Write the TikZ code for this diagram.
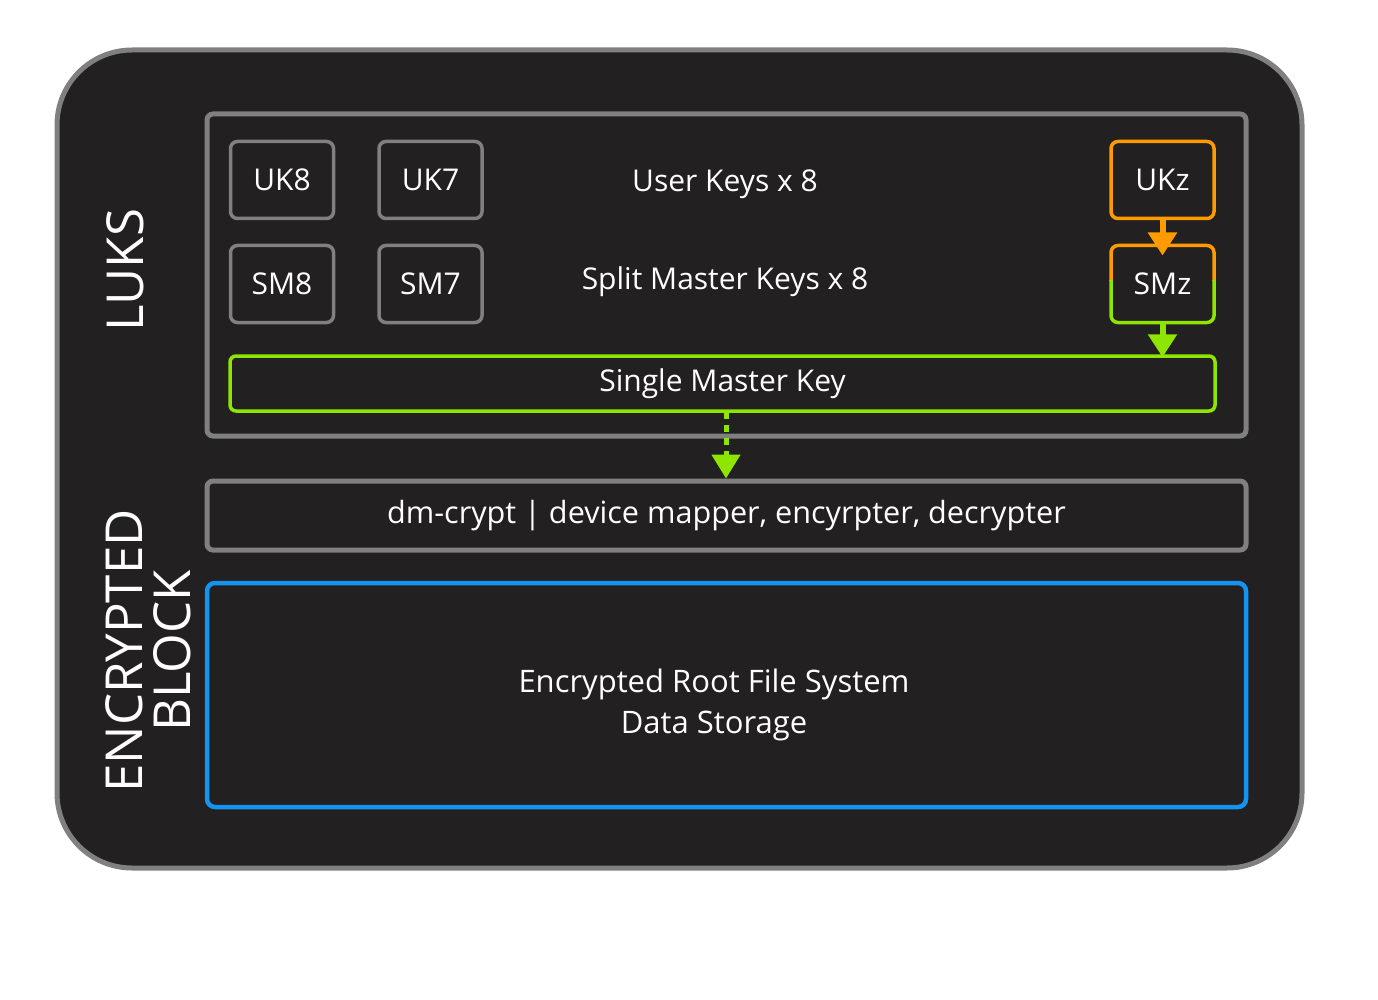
\documentclass[tikz,border=0pt]{standalone}
\usepackage{fontspec}
\setmainfont{Open Sans}
\usetikzlibrary{arrows.meta}
\definecolor{bg}{HTML}{222020}
\definecolor{bord}{HTML}{808080}
\definecolor{grn}{HTML}{8EE600}
\definecolor{org}{HTML}{FF9A00}
\definecolor{blu}{HTML}{1493F0}
\tikzset{
  keybox/.style={draw=bord, line width=3.5pt, rounded corners=7pt, minimum width=103pt, minimum height=77pt, inner sep=0pt, text=white, font=\fontsize{30}{36}\selectfont},
  lbl/.style={text=white, font=\fontsize{30}{36}\selectfont, inner sep=0pt},
  biglbl/.style={text=white, font=\fontsize{51}{48}\selectfont, inner sep=0pt, rotate=90, align=center},
}
\begin{document}
\begin{tikzpicture}[x=1pt,y=-1pt]
\useasboundingbox (0,0) rectangle (1378,1000);
% outer
\draw[bord, line width=5pt, fill=bg, rounded corners=75pt] (57,50) rectangle (1302,868);
% LUKS box
\node[draw=bord, line width=5pt, rounded corners=6pt, minimum width=1039pt, minimum height=322pt, inner sep=0pt] (luks) at (726.5,275) {};
% key boxes
\node[keybox] (uk8) at (282,180) {UK8};
\node[keybox] (uk7) at (430.5,180) {UK7};
\node[keybox] (sm8) at (282,284) {SM8};
\node[keybox] (sm7) at (430.5,284) {SM7};
\node[keybox, draw=org] (ukz) at (1162.5,180) {UKz};
\node[keybox, draw=none, outer sep=0pt] (smz) at (1162.5,284) {SMz};
\draw[org, line width=3.5pt, rounded corners=7pt] (smz.west |- 0,281) |- (smz.north) -| (smz.east |- 0,281);
\draw[grn, line width=3.5pt, rounded corners=7pt] (smz.west |- 0,280) |- (smz.south) -| (smz.east |- 0,280);
\node[lbl] (uk) at (725,184) {User Keys x 8};
\node[lbl] (smk) at (725,282) {Split Master Keys x 8};
% single master key
\node[draw=grn, line width=3.5pt, rounded corners=6pt, minimum width=985pt, minimum height=55pt, inner sep=0pt, lbl] (smkey) at (722.5,383.5) {Single Master Key};
% arrows
\draw[org, line width=6pt, -{Triangle[width=28pt,length=23pt]}, shorten >=-10pt] (ukz.south) -- (smz.north);
\draw[grn, line width=6pt, -{Triangle[width=28pt,length=23pt]}, shorten >=-3pt] (smz.south) -- (smz.south |- smkey.north);
% dm-crypt
\node[draw=bord, line width=5pt, rounded corners=6pt, minimum width=1039pt, minimum height=69pt, inner sep=0pt, lbl, font=\fontsize{30.6}{36}\selectfont] (dm) at (726.5,515.5) {dm-crypt | device mapper, encyrpter, decrypter};
\draw[grn, line width=5pt, dash pattern=on 7pt off 6pt] (726,412) -- (726,456);
\draw[grn, line width=5pt, -{Triangle[width=28pt,length=24pt]}] (726,454) -- (dm.north -| 726,0);
% blue box
\node[draw=blu, line width=4.5pt, rounded corners=8pt, minimum width=1039pt, minimum height=224pt, inner sep=0pt] (efs) at (726.5,695) {};
\node[lbl, align=center, font=\fontsize{31}{41}\selectfont] (efst) at (714,705) {Encrypted Root File System\\Data Storage};
% side labels
\node[biglbl] (lukst) at (125,270) {LUKS};
\node[biglbl] (enct) at (148,651) {ENCRYPTED\\BLOCK};
\end{tikzpicture}
\end{document}
